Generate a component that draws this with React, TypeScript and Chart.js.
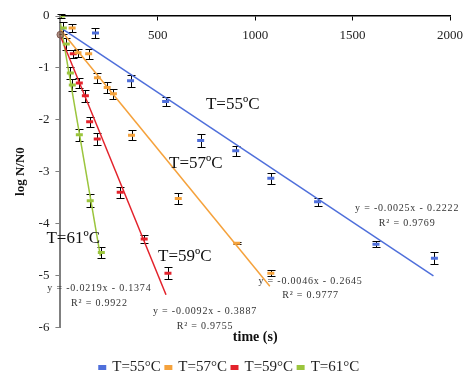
import React, { useEffect, useRef } from "react";
import { Chart, registerables } from "chart.js";

Chart.register(...registerables);

// ---- data ----
const seriesLabels = ["T=55°C", "T=57°C", "T=59°C", "T=61°C"];
const seriesColors = ["#4F6FDB", "#F5A23C", "#E3222B", "#9BC53D"];

const time55 = [180, 360, 540, 720, 900, 1080, 1320, 1620, 1920];
const log55 = [-0.33, -1.25, -1.65, -2.4, -2.6, -3.13, -3.58, -4.4, -4.67];
const err55 = [0.1, 0.12, 0.08, 0.12, 0.1, 0.1, 0.08, 0.06, 0.12];

const time57 = [60, 90, 145, 190, 240, 272, 365, 605, 905, 1080];
const log57 = [-0.23, -0.71, -0.73, -1.19, -1.38, -1.5, -2.3, -3.52, -4.38, -4.96];
const err57 = [0.08, 0.08, 0.1, 0.1, 0.1, 0.1, 0.1, 0.1, 0.02, 0.06];

const time59 = [66, 97, 128, 150, 189, 307, 430, 552];
const log59 = [-0.73, -1.29, -1.54, -2.04, -2.37, -3.4, -4.3, -4.96];
const err59 = [0.08, 0.1, 0.12, 0.1, 0.12, 0.1, 0.08, 0.12];

const time61 = [5, 15, 30, 51, 61, 97, 153, 210];
const log61 = [0, -0.23, -0.54, -1.1, -1.33, -2.29, -3.56, -4.56];
const err61 = [0.03, 0.12, 0.12, 0.12, 0.12, 0.12, 0.12, 0.1];

// overlapping start marker at the origin
const startTime = [0];
const startLog = [-0.36];

// trendline equations (from chart labels)
const trendSlopes = [-0.0025, -0.0046, -0.0092, -0.0219];
const trendIntercepts = [-0.2222, -0.2645, -0.3887, -0.1374];
const trendEnds = [1915, 1075, 542, 205];
const trendEquations = [
  "y = -0.0025x - 0.2222",
  "y = -0.0046x - 0.2645",
  "y = -0.0092x - 0.3887",
  "y = -0.0219x - 0.1374",
];
const trendR2 = ["R² = 0.9769", "R² = 0.9777", "R² = 0.9755", "R² = 0.9922"];

const annotationLabels = ["T=55ºC", "T=57ºC", "T=59ºC", "T=61ºC"];

const xTicks = [0, 500, 1000, 1500, 2000];
const yTicks = [-6, -5, -4, -3, -2, -1, 0];

// ---- layout of in-plot labels (data coordinates) ----
const annotationPos = [
  { x: 747, y: -1.71 },
  { x: 558, y: -2.85 },
  { x: 501, y: -4.63 },
  { x: -72, y: -4.29 },
];
const equationPos = [
  { x: 1780, y: -3.71, r: -4.0 },
  { x: 1284, y: -5.12, r: -5.38 },
  { x: 742, y: -5.69, r: -5.98 },
  { x: 200, y: -5.25, r: -5.54 },
];

const series = [
  { t: time55, v: log55, e: err55 },
  { t: time57, v: log57, e: err57 },
  { t: time59, v: log59, e: err59 },
  { t: time61, v: log61, e: err61 },
];

const FONT = "'Liberation Serif', 'Times New Roman', serif";

const errorBarPlugin = {
  id: "errorBars",
  beforeDatasetsDraw(chart: any) {
    const { ctx, scales } = chart;
    const x = scales.x;
    const y = scales.y;
    ctx.save();
    ctx.strokeStyle = "#000";
    ctx.lineWidth = 1;
    series.forEach((s) => {
      s.t.forEach((tv, i) => {
        const px = Math.round(x.getPixelForValue(tv)) + 0.5;
        const top = Math.round(y.getPixelForValue(s.v[i] + s.e[i])) + 0.5;
        const bot = Math.round(y.getPixelForValue(s.v[i] - s.e[i])) + 0.5;
        ctx.beginPath();
        ctx.moveTo(px, top);
        ctx.lineTo(px, bot);
        ctx.moveTo(px - 4, top);
        ctx.lineTo(px + 4, top);
        ctx.moveTo(px - 4, bot);
        ctx.lineTo(px + 4, bot);
        ctx.stroke();
      });
    });
    ctx.restore();
  },
};

const labelPlugin = {
  id: "labels",
  afterDraw(chart: any) {
    const { ctx, scales } = chart;
    const x = scales.x;
    const y = scales.y;
    ctx.save();
    ctx.fillStyle = "#111";
    ctx.font = `17px ${FONT}`;
    ctx.textAlign = "left";
    ctx.textBaseline = "middle";
    annotationLabels.forEach((txt, i) => {
      const p = annotationPos[i];
      ctx.fillText(txt, x.getPixelForValue(p.x), y.getPixelForValue(p.y));
    });
    ctx.font = `10px ${FONT}`;
    ctx.textAlign = "center";
    ctx.fillStyle = "#333";
    try {
      (ctx as any).letterSpacing = "0.8px";
    } catch (e) {}
    trendEquations.forEach((txt, i) => {
      const p = equationPos[i];
      ctx.fillText(txt, x.getPixelForValue(p.x), y.getPixelForValue(p.y));
      ctx.fillText(trendR2[i], x.getPixelForValue(p.x), y.getPixelForValue(p.r));
    });
    ctx.restore();
  },
};

export default function App() {
  const canvasRef = useRef<HTMLCanvasElement | null>(null);

  useEffect(() => {
    if (!canvasRef.current) return;
    const scatterSets = series.map((s, i) => ({
      type: "scatter" as const,
      label: seriesLabels[i],
      data: s.t.map((tv, j) => ({ x: tv, y: s.v[j] })),
      borderColor: seriesColors[i],
      backgroundColor: seriesColors[i],
      borderWidth: 1,
      pointStyle: "line" as const,
      pointRadius: 3.5,
      pointBorderWidth: 3,
      pointHoverRadius: 3.5,
      showLine: false,
    }));
    const trendSets = trendSlopes.map((m, i) => ({
      type: "line" as const,
      label: "trend" + i,
      data: [
        { x: 0, y: trendIntercepts[i] },
        { x: trendEnds[i], y: m * trendEnds[i] + trendIntercepts[i] },
      ],
      borderColor: seriesColors[i],
      borderWidth: 1.5,
      pointRadius: 0,
      fill: false,
    }));
    const startSet = {
      type: "scatter" as const,
      label: "start",
      data: startTime.map((tv, j) => ({ x: tv, y: startLog[j] })),
      borderColor: "rgba(110,70,60,0.75)",
      backgroundColor: "rgba(140,95,80,0.7)",
      borderWidth: 1,
      pointStyle: "circle" as const,
      pointRadius: 3.5,
      clip: false,
      showLine: false,
    };

    const chart = new Chart(canvasRef.current, {
      type: "scatter",
      data: { datasets: [...scatterSets, startSet, ...trendSets] as any },
      options: {
        animation: false,
        responsive: true,
        maintainAspectRatio: false,
        layout: { padding: { left: 9, right: 17, top: 16, bottom: -4 } },
        plugins: {
          legend: {
            position: "bottom",
            labels: {
              filter: (item: any) => item.datasetIndex < 4,
              boxWidth: 5,
              boxHeight: 2,
              color: "#222",
              font: { family: FONT, size: 15 },
              padding: 5,
            },
          },
          tooltip: { enabled: false },
        },
        scales: {
          x: {
            type: "linear",
            position: { y: 0 } as any,
            min: 0,
            max: 2000,
            afterBuildTicks: (axis: any) => {
              axis.ticks = xTicks.map((v) => ({ value: v }));
            },
            ticks: {
              font: { family: FONT, size: 13, lineHeight: 2.0 },
              color: "#222",
              padding: 3,
              maxRotation: 0,
              callback: (v: any) => (v === 0 ? "" : String(v)),
            },
            grid: {
              display: true,
              drawOnChartArea: false,
              drawTicks: true,
              tickLength: 4,
              color: "#000",
            },
            border: { display: true, color: "#000", width: 1.5 },
          },
          x2: {
            type: "linear",
            position: "bottom",
            min: 0,
            max: 2000,
            ticks: { display: false },
            grid: { display: false, drawTicks: false },
            border: { display: false },
            title: {
              display: true,
              text: "time (s)",
              color: "#111",
              font: { family: FONT, size: 14, weight: "bold" },
              padding: { top: 2, bottom: 9 },
            },
          },
          y: {
            type: "linear",
            min: -6,
            max: 0,
            afterBuildTicks: (axis: any) => {
              axis.ticks = yTicks.map((v) => ({ value: v }));
            },
            ticks: {
              font: { family: FONT, size: 13 },
              color: "#222",
              padding: 6,
            },
            grid: {
              display: true,
              drawOnChartArea: false,
              drawTicks: true,
              tickLength: 5,
              color: "#808080",
            },
            border: { display: true, color: "#808080", width: 2 },
            title: {
              display: true,
              text: "log N/N0",
              color: "#111",
              font: { family: FONT, size: 13, weight: "bold" },
              padding: { top: 4, bottom: 4 },
            },
          },
        },
      },
      plugins: [errorBarPlugin, labelPlugin],
    });
    return () => chart.destroy();
  }, []);

  return (
    <div
      style={{
        position: "fixed",
        left: 0,
        top: 0,
        width: 467,
        height: 381,
        background: "#fff",
      }}
    >
      <canvas ref={canvasRef} />
    </div>
  );
}
